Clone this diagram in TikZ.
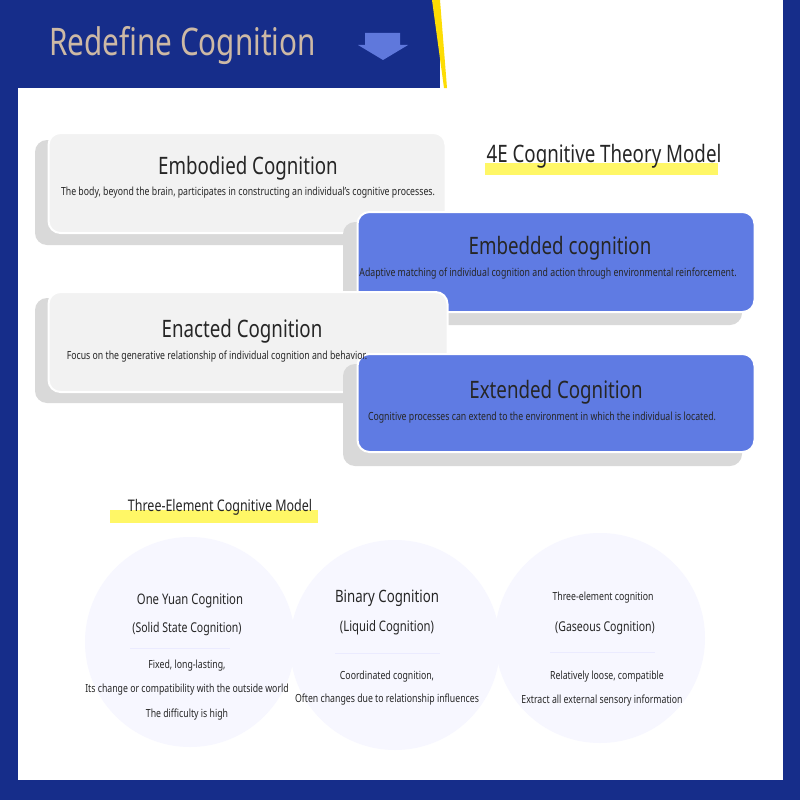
\documentclass[tikz,border=0pt]{standalone}
\usepackage{fontspec}
\setmainfont{Noto Sans}[FakeStretch=0.78]
\definecolor{navyc}{HTML}{162D8A}
\definecolor{boxblue}{HTML}{5F7BE3}
\definecolor{arrowc}{HTML}{5F78DC}
\definecolor{titlec}{HTML}{CDB9A5}
\begin{document}
\begin{tikzpicture}[x=1pt,y=-1pt,
  gbox/.style={fill=gray!10,draw=white,line width=2pt,rounded corners=12pt},
  bbox/.style={fill=boxblue,draw=white,line width=2pt,rounded corners=12pt},
  shad/.style={fill=gray!30,draw=none,rounded corners=12pt},
  ttl/.style={font=\fontsize{24}{28}\selectfont,text=black!85},
  dsc/.style={font=\fontsize{11.2}{13}\selectfont,text=black!85},
  circ/.style={circle,fill=blue!3,draw=none,minimum size=210pt},
  ctx/.style={font=\fontsize{14.5}{17}\selectfont,text=black!85},
  csm/.style={font=\fontsize{11.2}{13}\selectfont,text=black!85},
  hl/.style={fill=yellow!60,draw=none}]
\useasboundingbox (0,0) rectangle (800,800);
\fill[navyc] (0,0) rectangle (800,800);
\fill[white] (18,88) rectangle (783,780);
\fill[white] (440,0) rectangle (783,88);
\fill[yellow!80!orange] (432,0) -- (440,0) -- (447,88) -- (444,88) -- cycle;
\node[anchor=west,text=titlec,font=\fontsize{38}{42}\selectfont] (title) at (46,46) {Redefine Cognition};
\fill[arrowc] (365,33) -- (400,33) -- (400,45) -- (408,45) -- (383,60) -- (358,45) -- (365,45) -- cycle;
% circles
\node[circ] (c1) at (190,642) {};
\node[circ] (c2) at (395,645) {};
\node[circ] (c3) at (600,638) {};
% boxes
\fill[shad] (35,140) rectangle (432,245);
\node[gbox,minimum width=397pt,minimum height=100pt] (b1) at (247,183) {};
\fill[shad] (343,222) rectangle (742,325);
\node[bbox,minimum width=397pt,minimum height=100pt] (b2) at (556,262) {};
\fill[shad] (35,298) rectangle (432,403);
\node[gbox,minimum width=399pt,minimum height=100pt] (b3) at (248,342) {};
\fill[shad] (343,364) rectangle (742,466);
\node[bbox,minimum width=397pt,minimum height=98pt] (b4) at (556,403) {};
\node[ttl] (t1) at (248,168) {Embodied Cognition};
\node[dsc] (d1) at (248,193) {The body, beyond the brain, participates in constructing an individual's cognitive processes.};
\node[ttl] (t2) at (560,248) {Embedded cognition};
\node[dsc] (d2) at (548,274) {Adaptive matching of individual cognition and action through environmental reinforcement.};
\node[ttl] (t3) at (242,331) {Enacted Cognition};
\node[dsc] (d3) at (217,357) {Focus on the generative relationship of individual cognition and behavior.};
\node[ttl] (t4) at (556,392) {Extended Cognition};
\node[dsc] (d4) at (542,418) {Cognitive processes can extend to the environment in which the individual is located.};
% headings
\fill[hl] (485,163) rectangle (718,175);
\node[font=\fontsize{24}{28}\selectfont,text=black!85] (h1) at (604,156) {4E Cognitive Theory Model};
\fill[hl] (110,510) rectangle (318,523);
\node[font=\fontsize{16}{19}\selectfont,text=black!85] (h2) at (220,507) {Three-Element Cognitive Model};
% circle texts
\node[ctx] (a1) at (190,601) {One Yuan Cognition};
\node[font=\fontsize{13.5}{16}\selectfont,text=black!85] (a2) at (187,629) {(Solid State Cognition)};
\draw[blue!8] (130,648) -- (230,648);
\node[csm] (a3) at (187,666) {Fixed, long-lasting,};
\node[csm] (a4) at (187,690) {Its change or compatibility with the outside world};
\node[csm] (a5) at (187,715) {The difficulty is high};
\node[font=\fontsize{17}{20}\selectfont,text=black!85] (e1) at (387,598) {Binary Cognition};
\node[ctx] (e2) at (387,628) {(Liquid Cognition)};
\draw[blue!8] (335,653) -- (440,653);
\node[csm] (e3) at (387,677) {Coordinated cognition,};
\node[csm] (e4) at (387,700) {Often changes due to relationship influences};
\node[csm] (f1) at (603,598) {Three-element cognition};
\node[font=\fontsize{13.5}{16}\selectfont,text=black!85] (f2) at (605,628) {(Gaseous Cognition)};
\draw[blue!8] (550,652) -- (655,652);
\node[csm] (f3) at (607,677) {Relatively loose, compatible};
\node[csm] (f4) at (602,701) {Extract all external sensory information};
\end{tikzpicture}
\end{document}
